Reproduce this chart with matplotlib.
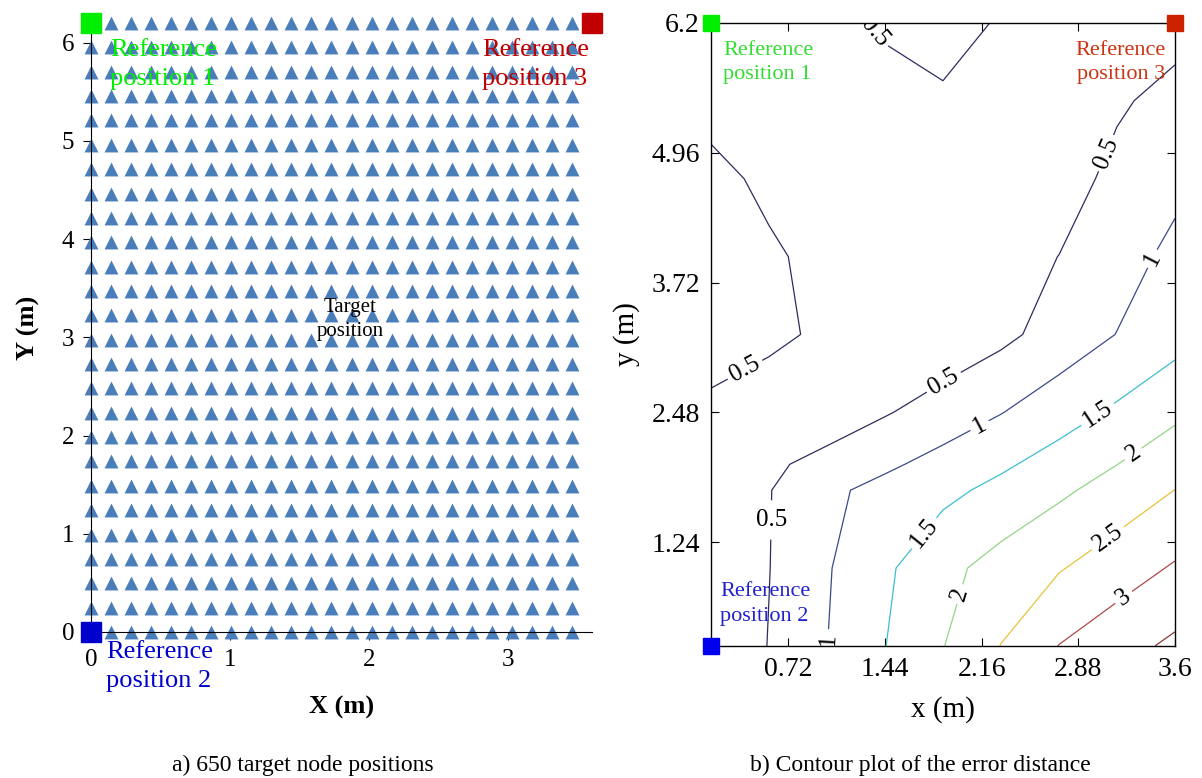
import numpy as np
import matplotlib
matplotlib.use("Agg")
import matplotlib.pyplot as plt

plt.rcParams['font.family'] = ['Liberation Serif', 'DejaVu Serif']

# ---- panel a: target node grid (25 x 26 = 650 nodes) ----
node_dx = 0.144
node_dy = 0.248
n_cols = 25
n_rows = 26
room_x = 3.6
room_y = 6.2

# reference positions (x, y)
ref1 = (0.0, 6.2)
ref2 = (0.0, 0.0)
ref3 = (3.6, 6.2)

# ---- panel b: error distance (m) ----
grid_x = [0.144, 0.576, 1.008, 1.44, 1.872, 2.304, 2.736, 3.168, 3.6]
grid_y = [0.248, 0.992, 1.736, 1.984, 2.48, 3.224, 3.968, 4.712, 5.456, 6.2]
err = [
    [0.10, 0.515, 0.995, 1.49, 1.985, 2.51, 3.01, 3.31, 3.60],
    [0.20, 0.49, 0.96, 1.415, 1.86, 2.19, 2.465, 2.76, 3.05],
    [0.30, 0.48, 0.90, 1.147, 1.378, 1.63, 1.91, 2.20, 2.505],
    [0.35, 0.41, 0.66, 0.913, 1.166, 1.42, 1.70, 1.995, 2.30],
    [0.455, 0.35, 0.21, 0.462, 0.72, 0.984, 1.28, 1.58, 1.90],
    [0.60, 0.56, 0.45, 0.38, 0.15, 0.38, 0.70, 1.01, 1.305],
    [0.65, 0.54, 0.42, 0.35, 0.30, 0.35, 0.504, 0.80, 1.12],
    [0.58, 0.44, 0.35, 0.30, 0.30, 0.30, 0.33, 0.60, 0.875],
    [0.40, 0.30, 0.30, 0.38, 0.42, 0.35, 0.30, 0.45, 0.62],
    [0.35, 0.35, 0.40, 0.544, 0.73, 0.445, 0.30, 0.30, 0.36],
]
levels = [0.5, 1, 1.5, 2, 2.5, 3, 3.5]
level_colors = ['#2b2d5c', '#3a4a8a', '#3cbfd0', '#95d48a', '#e6c43a', '#b04848', '#8a3a3a']
label_pos = [(1.33, 6.08), (0.40, 2.88), (0.66, 1.45), (1.89, 2.74), (3.08, 4.96),
             (1.03, 0.31), (2.15, 2.34), (3.46, 3.93),
             (1.66, 1.40), (3.04, 2.43),
             (1.98, 0.75), (3.28, 2.10),
             (3.11, 1.26), (3.23, 0.69)]
xticks_b = [0.72, 1.44, 2.16, 2.88, 3.6]
xticklabels_b = ['0.72', '1.44', '2.16', '2.88', '3.6']
yticks_b = [1.24, 2.48, 3.72, 4.96, 6.2]
yticklabels_b = ['1.24', '2.48', '3.72', '4.96', '6.2']


def main():
    fig = plt.figure(figsize=(12.02, 7.78), dpi=100)

    # ---------------- a) ----------------
    ax1 = fig.add_axes([0.0757, 0.1877, 0.4168, 0.7827])
    xs, ys = np.meshgrid(np.arange(n_cols) * node_dx, np.arange(n_rows) * node_dy)
    ax1.scatter(xs.ravel(), ys.ravel(), marker='^', s=100, color='#4a7ebb',
                linewidths=0, zorder=2, clip_on=False)
    ax1.plot(*ref1, 's', ms=14, color='#00ee00', zorder=3, clip_on=False)
    ax1.plot(*ref2, 's', ms=14, color='#0000cc', zorder=3, clip_on=False)
    ax1.plot(*ref3, 's', ms=14, color='#c00000', zorder=3, clip_on=False)
    ax1.set_xlim(0, room_x)
    ax1.set_ylim(0, room_y)
    ax1.spines['top'].set_visible(False)
    ax1.spines['right'].set_visible(False)
    ax1.set_xticks([0, 1, 2, 3])
    ax1.set_yticks([0, 1, 2, 3, 4, 5, 6])
    ax1.tick_params(direction='out', length=6, labelsize=18, pad=6)
    ax1.set_xlabel('X (m)', fontsize=19, fontweight='bold', labelpad=18)
    ax1.set_ylabel('Y (m)', fontsize=19, fontweight='bold', labelpad=16)

    ax1.text(0.137, 6.04, 'Reference\nposition 1', color='#00ee00', fontsize=19,
             ha='left', va='top', linespacing=1.4, zorder=4)
    ax1.text(2.81, 6.04, 'Reference\nposition 3', color='#c00000', fontsize=19,
             ha='left', va='top', linespacing=1.4, zorder=4)
    ax1.text(0.11, -0.09, 'Reference\nposition 2', color='#0000cc', fontsize=19,
             ha='left', va='top', linespacing=1.4, zorder=4, clip_on=False)
    ax1.text(1.86, 3.18, 'Target\nposition', color='black', fontsize=15,
             ha='center', va='center', linespacing=1.35, zorder=4)

    # ---------------- b) ----------------
    ax2 = fig.add_axes([0.5915, 0.1697, 0.386, 0.8008])
    cs = ax2.contour(grid_x, grid_y, np.array(err), levels=levels,
                     colors=level_colors, linewidths=0.9)
    texts = ax2.clabel(cs, levels[:-1], manual=label_pos, inline=True, inline_spacing=4,
                       fmt=lambda v: f'{v:g}', fontsize=18, colors='k')
    for t in texts:
        x, y = t.get_position()
        if abs(x - 0.66) < 0.15 and abs(y - 1.45) < 0.3:
            t.set_rotation(0)
    ax2.set_xlim(grid_x[0], grid_x[-1])
    ax2.set_ylim(grid_y[0], grid_y[-1])
    ax2.set_xticks(xticks_b)
    ax2.set_xticklabels(xticklabels_b)
    ax2.set_yticks(yticks_b)
    ax2.set_yticklabels(yticklabels_b)
    ax2.tick_params(direction='in', length=6, labelsize=20, top=True, right=True, pad=8)
    for sp in ax2.spines.values():
        sp.set_linewidth(1.0)
    ax2.set_xlabel('x (m)', fontsize=21, labelpad=10)
    ax2.set_ylabel('y (m)', fontsize=21, labelpad=8)

    ax2.plot(grid_x[0], grid_y[-1], 's', ms=12, color='#00ee00', zorder=5, clip_on=False)
    ax2.plot(grid_x[0], grid_y[0], 's', ms=12, color='#0000ee', zorder=5, clip_on=False)
    ax2.plot(grid_x[-1], grid_y[-1], 's', ms=12, color='#cc2200', zorder=5, clip_on=False)
    ax2.text(0.233, 6.03, 'Reference\nposition 1', color='#33dd33', fontsize=16,
             ha='left', va='top', linespacing=1.4)
    ax2.text(3.53, 6.03, 'Reference\nposition 3', color='#cc3311', fontsize=16,
             ha='right', va='top', linespacing=1.4)
    ax2.text(0.211, 0.86, 'Reference\nposition 2', color='#2222cc', fontsize=16,
             ha='left', va='top', linespacing=1.4)

    fig.text(303 / 1202, 1 - 765 / 778, 'a) 650 target node positions',
             fontsize=17, ha='center', va='center')
    fig.text(920 / 1202, 1 - 765 / 778, 'b) Contour plot of the error distance',
             fontsize=17, ha='center', va='center')

    fig.savefig('out.png', dpi=100)


if __name__ == "__main__":
    main()
